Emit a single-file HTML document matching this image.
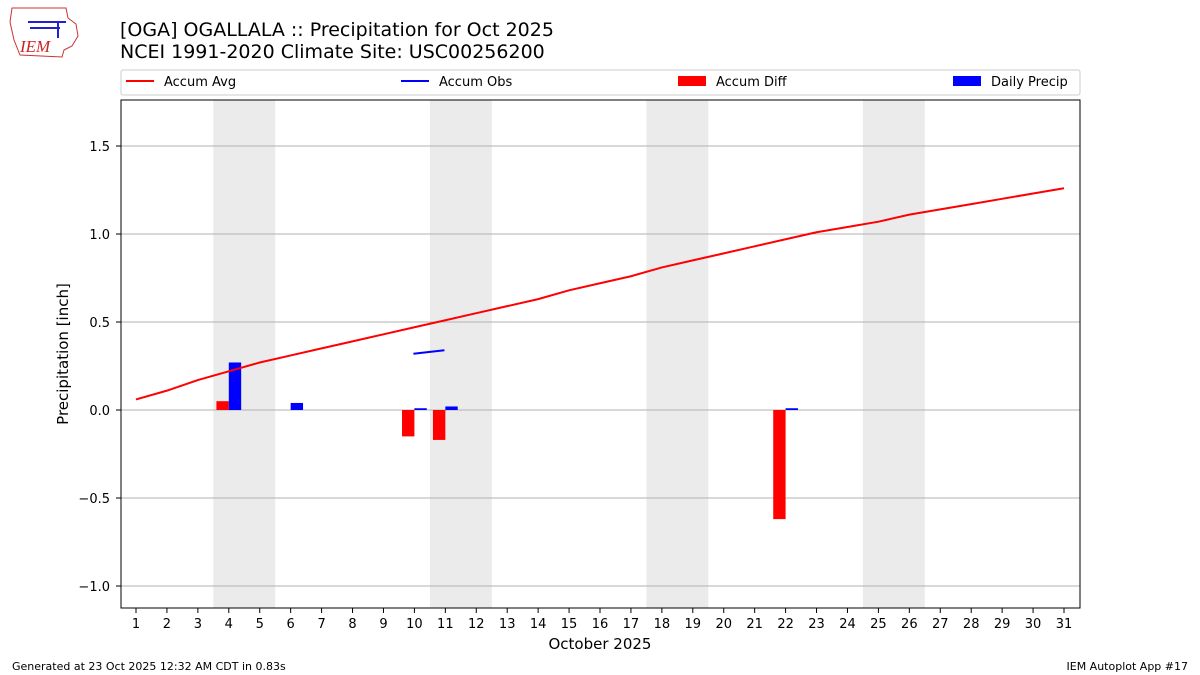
<!DOCTYPE html>
<html><head><meta charset="utf-8"><style>body{margin:0;background:#fff}svg{display:block;font-family:"DejaVu Sans","Liberation Sans",sans-serif}</style></head><body>
<svg width="1200" height="675" xmlns="http://www.w3.org/2000/svg">
<rect width="1200" height="675" fill="#fff"/>
<!-- logo -->
<path d="M12,8 L66,8 L68,18 L76,24 L78,36 L72,46 L64,50 L62,57 L20,55 L14,40 L10,22 Z" fill="#fff" stroke="#c33" stroke-width="1"/>
<path d="M28,22 L66,22 M58,22 L58,38 M30,28 L60,28" stroke="#22c" stroke-width="2" fill="none"/>
<text x="20" y="52" font-size="17" fill="#c22" font-style="italic" font-family="Liberation Serif,serif">IEM</text>
<text x="120" y="36" font-size="19" fill="#000">[OGA] OGALLALA :: Precipitation for Oct 2025</text>
<text x="120" y="58" font-size="19" fill="#000">NCEI 1991-2020 Climate Site: USC00256200</text>
<!-- legend -->
<rect x="121" y="70" width="959" height="25" fill="#fff" stroke="#ccc" rx="2"/>
<line x1="126" y1="81" x2="154" y2="81" stroke="red" stroke-width="2"/><text x="164" y="86" font-size="13">Accum Avg</text>
<line x1="401" y1="81" x2="429" y2="81" stroke="blue" stroke-width="2"/><text x="439" y="86" font-size="13">Accum Obs</text>
<rect x="678" y="76" width="28" height="10" fill="red"/><text x="716" y="86" font-size="13">Accum Diff</text>
<rect x="953" y="76" width="28" height="10" fill="blue"/><text x="991" y="86" font-size="13">Daily Precip</text>
<!-- shading -->
<g fill="#ebebeb">
<rect x="213.3" y="100" width="61.9" height="508"/>
<rect x="429.9" y="100" width="61.9" height="508"/>
<rect x="646.4" y="100" width="61.9" height="508"/>
<rect x="862.9" y="100" width="61.9" height="508"/>
</g>
<g stroke="#b0b0b0" stroke-width="1">
<line x1="121" x2="1080" y1="146" y2="146"/><line x1="121" x2="1080" y1="234" y2="234"/><line x1="121" x2="1080" y1="322" y2="322"/><line x1="121" x2="1080" y1="410" y2="410"/><line x1="121" x2="1080" y1="498" y2="498"/><line x1="121" x2="1080" y1="586" y2="586"/>
</g>
<g id="bars"></g>
<polyline id="avg" fill="none" stroke="red" stroke-width="2"/>
<line x1="413.4" y1="353.7" x2="444.4" y2="350.2" stroke="blue" stroke-width="2"/>
<rect x="121" y="100" width="959" height="508" fill="none" stroke="#000" stroke-width="1"/>
<g id="ticks" font-size="13"></g>
<g font-size="13" text-anchor="end">
<text x="110" y="151">1.5</text><text x="110" y="239">1.0</text><text x="110" y="327">0.5</text><text x="110" y="415">0.0</text><text x="110" y="503">−0.5</text><text x="110" y="591">−1.0</text>
</g>
<g stroke="#000"><line x1="116" x2="121" y1="146" y2="146"/><line x1="116" x2="121" y1="234" y2="234"/><line x1="116" x2="121" y1="322" y2="322"/><line x1="116" x2="121" y1="410" y2="410"/><line x1="116" x2="121" y1="498" y2="498"/><line x1="116" x2="121" y1="586" y2="586"/></g>
<text x="68" y="354" font-size="15" text-anchor="middle" transform="rotate(-90 68 354)">Precipitation [inch]</text>
<text x="600" y="649" font-size="15" text-anchor="middle">October 2025</text>
<text x="12" y="670" font-size="11">Generated at 23 Oct 2025 12:32 AM CDT in 0.83s</text>
<text x="1188" y="670" font-size="11" text-anchor="end">IEM Autoplot App #17</text>
</svg>
<script>
var X=d=>136+(d-1)*928/30, Y=v=>410-176*v;
var avg=[0.06,0.11,0.17,0.22,0.27,0.31,0.35,0.39,0.43,0.47,0.51,0.55,0.59,0.63,0.68,0.72,0.76,0.81,0.85,0.89,0.93,0.97,1.01,1.04,1.07,1.11,1.14,1.17,1.20,1.23,1.26];
document.getElementById('avg').setAttribute('points',avg.map((v,i)=>X(i+1)+','+Y(v)).join(' '));
var ns='http://www.w3.org/2000/svg',b=document.getElementById('bars'),w=928/30*0.4;
function bar(d,v,c,off){var r=document.createElementNS(ns,'rect');var y0=Y(Math.max(v,0)),h=Math.abs(v)*176;r.setAttribute('x',X(d)+off-w/2);r.setAttribute('y',y0);r.setAttribute('width',w);r.setAttribute('height',h);r.setAttribute('fill',c);b.appendChild(r);}
[[4,0.05],[10,-0.15],[11,-0.17],[22,-0.62]].forEach(a=>bar(a[0],a[1],'red',-w/2));
[[4,0.27],[6,0.04],[10,0.01],[11,0.02],[22,0.01]].forEach(a=>bar(a[0],a[1],'blue',w/2));
var t=document.getElementById('ticks');
for(var d=1;d<=31;d++){var l=document.createElementNS(ns,'line');l.setAttribute('x1',X(d));l.setAttribute('x2',X(d));l.setAttribute('y1',608);l.setAttribute('y2',613);l.setAttribute('stroke','#000');t.appendChild(l);
var s=document.createElementNS(ns,'text');s.setAttribute('x',X(d));s.setAttribute('y',628);s.setAttribute('text-anchor','middle');s.textContent=d;t.appendChild(s);}
</script>
</body></html>
